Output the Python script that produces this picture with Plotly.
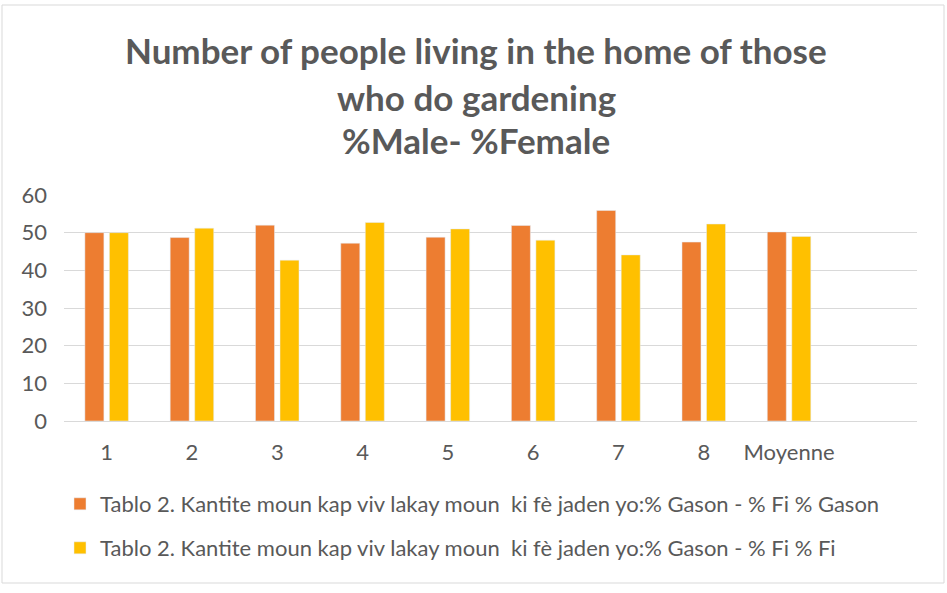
import plotly.graph_objects as go

categories = ["1", "2", "3", "4", "5", "6", "7", "8", "Moyenne"]
male = [50.0, 48.7, 52.0, 47.2, 48.8, 51.9, 55.9, 47.5, 50.2]
female = [50.0, 51.2, 42.7, 52.7, 51.0, 48.0, 44.1, 52.3, 49.0]
name_male = "Tablo 2. Kantite moun kap viv lakay moun  ki fè jaden yo:% Gason - % Fi % Gason"
name_female = "Tablo 2. Kantite moun kap viv lakay moun  ki fè jaden yo:% Gason - % Fi % Fi"
title_lines = ["Number of people living in the home of those", "who do gardening", "%Male- %Female"]

FONT = "Lato"
TXT = "#595959"
W, H = 947, 593
L, R, T, B = 64, 30, 195, 172
pw, ph = W - L - R, H - T - B

def px_y(y):
    return (H - B - y) / ph

def px_x(x):
    return (x - L) / pw

fig = go.Figure()
fig.add_trace(go.Bar(x=categories, y=male, name=name_male, marker_color="#ED7D31",
                     legend="legend", showlegend=True))
fig.add_trace(go.Bar(x=categories, y=female, name=name_female, marker_color="#FFC000",
                     legend="legend2", showlegend=True))

annotations = []
for line, yc in zip(title_lines, [50, 97, 140]):
    annotations.append(dict(text="<b>" + line + "</b>", x=px_x(476), y=px_y(yc),
                            xref="paper", yref="paper", xanchor="center", yanchor="middle",
                            showarrow=False, font=dict(family=FONT, size=35, color=TXT)))

fig.update_layout(
    width=W, height=H,
    margin=dict(l=L, r=R, t=T, b=B),
    paper_bgcolor="white", plot_bgcolor="white",
    barmode="group", bargap=0.425, bargroupgap=0.225,
    font=dict(family=FONT, size=22, color=TXT),
    annotations=annotations,
    showlegend=True,
    legend=dict(x=px_x(60), y=px_y(504), xanchor="left", yanchor="middle",
                font=dict(family=FONT, size=22, color=TXT), bgcolor="rgba(0,0,0,0)"),
    legend2=dict(x=px_x(60), y=px_y(548), xanchor="left", yanchor="middle",
                 font=dict(family=FONT, size=22, color=TXT), bgcolor="rgba(0,0,0,0)"),
    xaxis=dict(range=[-0.5, 9.5], showgrid=False, showline=True, linecolor="#D9D9D9",
               linewidth=1, ticks="", ticklabelstandoff=12,
               tickfont=dict(family=FONT, size=22, color=TXT)),
    yaxis=dict(range=[0, 60], dtick=10, showgrid=True, gridcolor="#D9D9D9", gridwidth=1,
               zeroline=False, showline=False, ticks="", ticklabelstandoff=16,
               tickfont=dict(family=FONT, size=22, color=TXT)),
    shapes=[dict(type="rect", xref="paper", yref="paper",
                 x0=px_x(2), x1=px_x(944), y0=px_y(583), y1=px_y(5),
                 line=dict(color="#D9D9D9", width=1), fillcolor="rgba(0,0,0,0)", layer="below")],
)

fig.write_html("out.html", config={"displayModeBar": False},
               post_script="document.body.style.margin='0';document.body.style.overflow='hidden';")
